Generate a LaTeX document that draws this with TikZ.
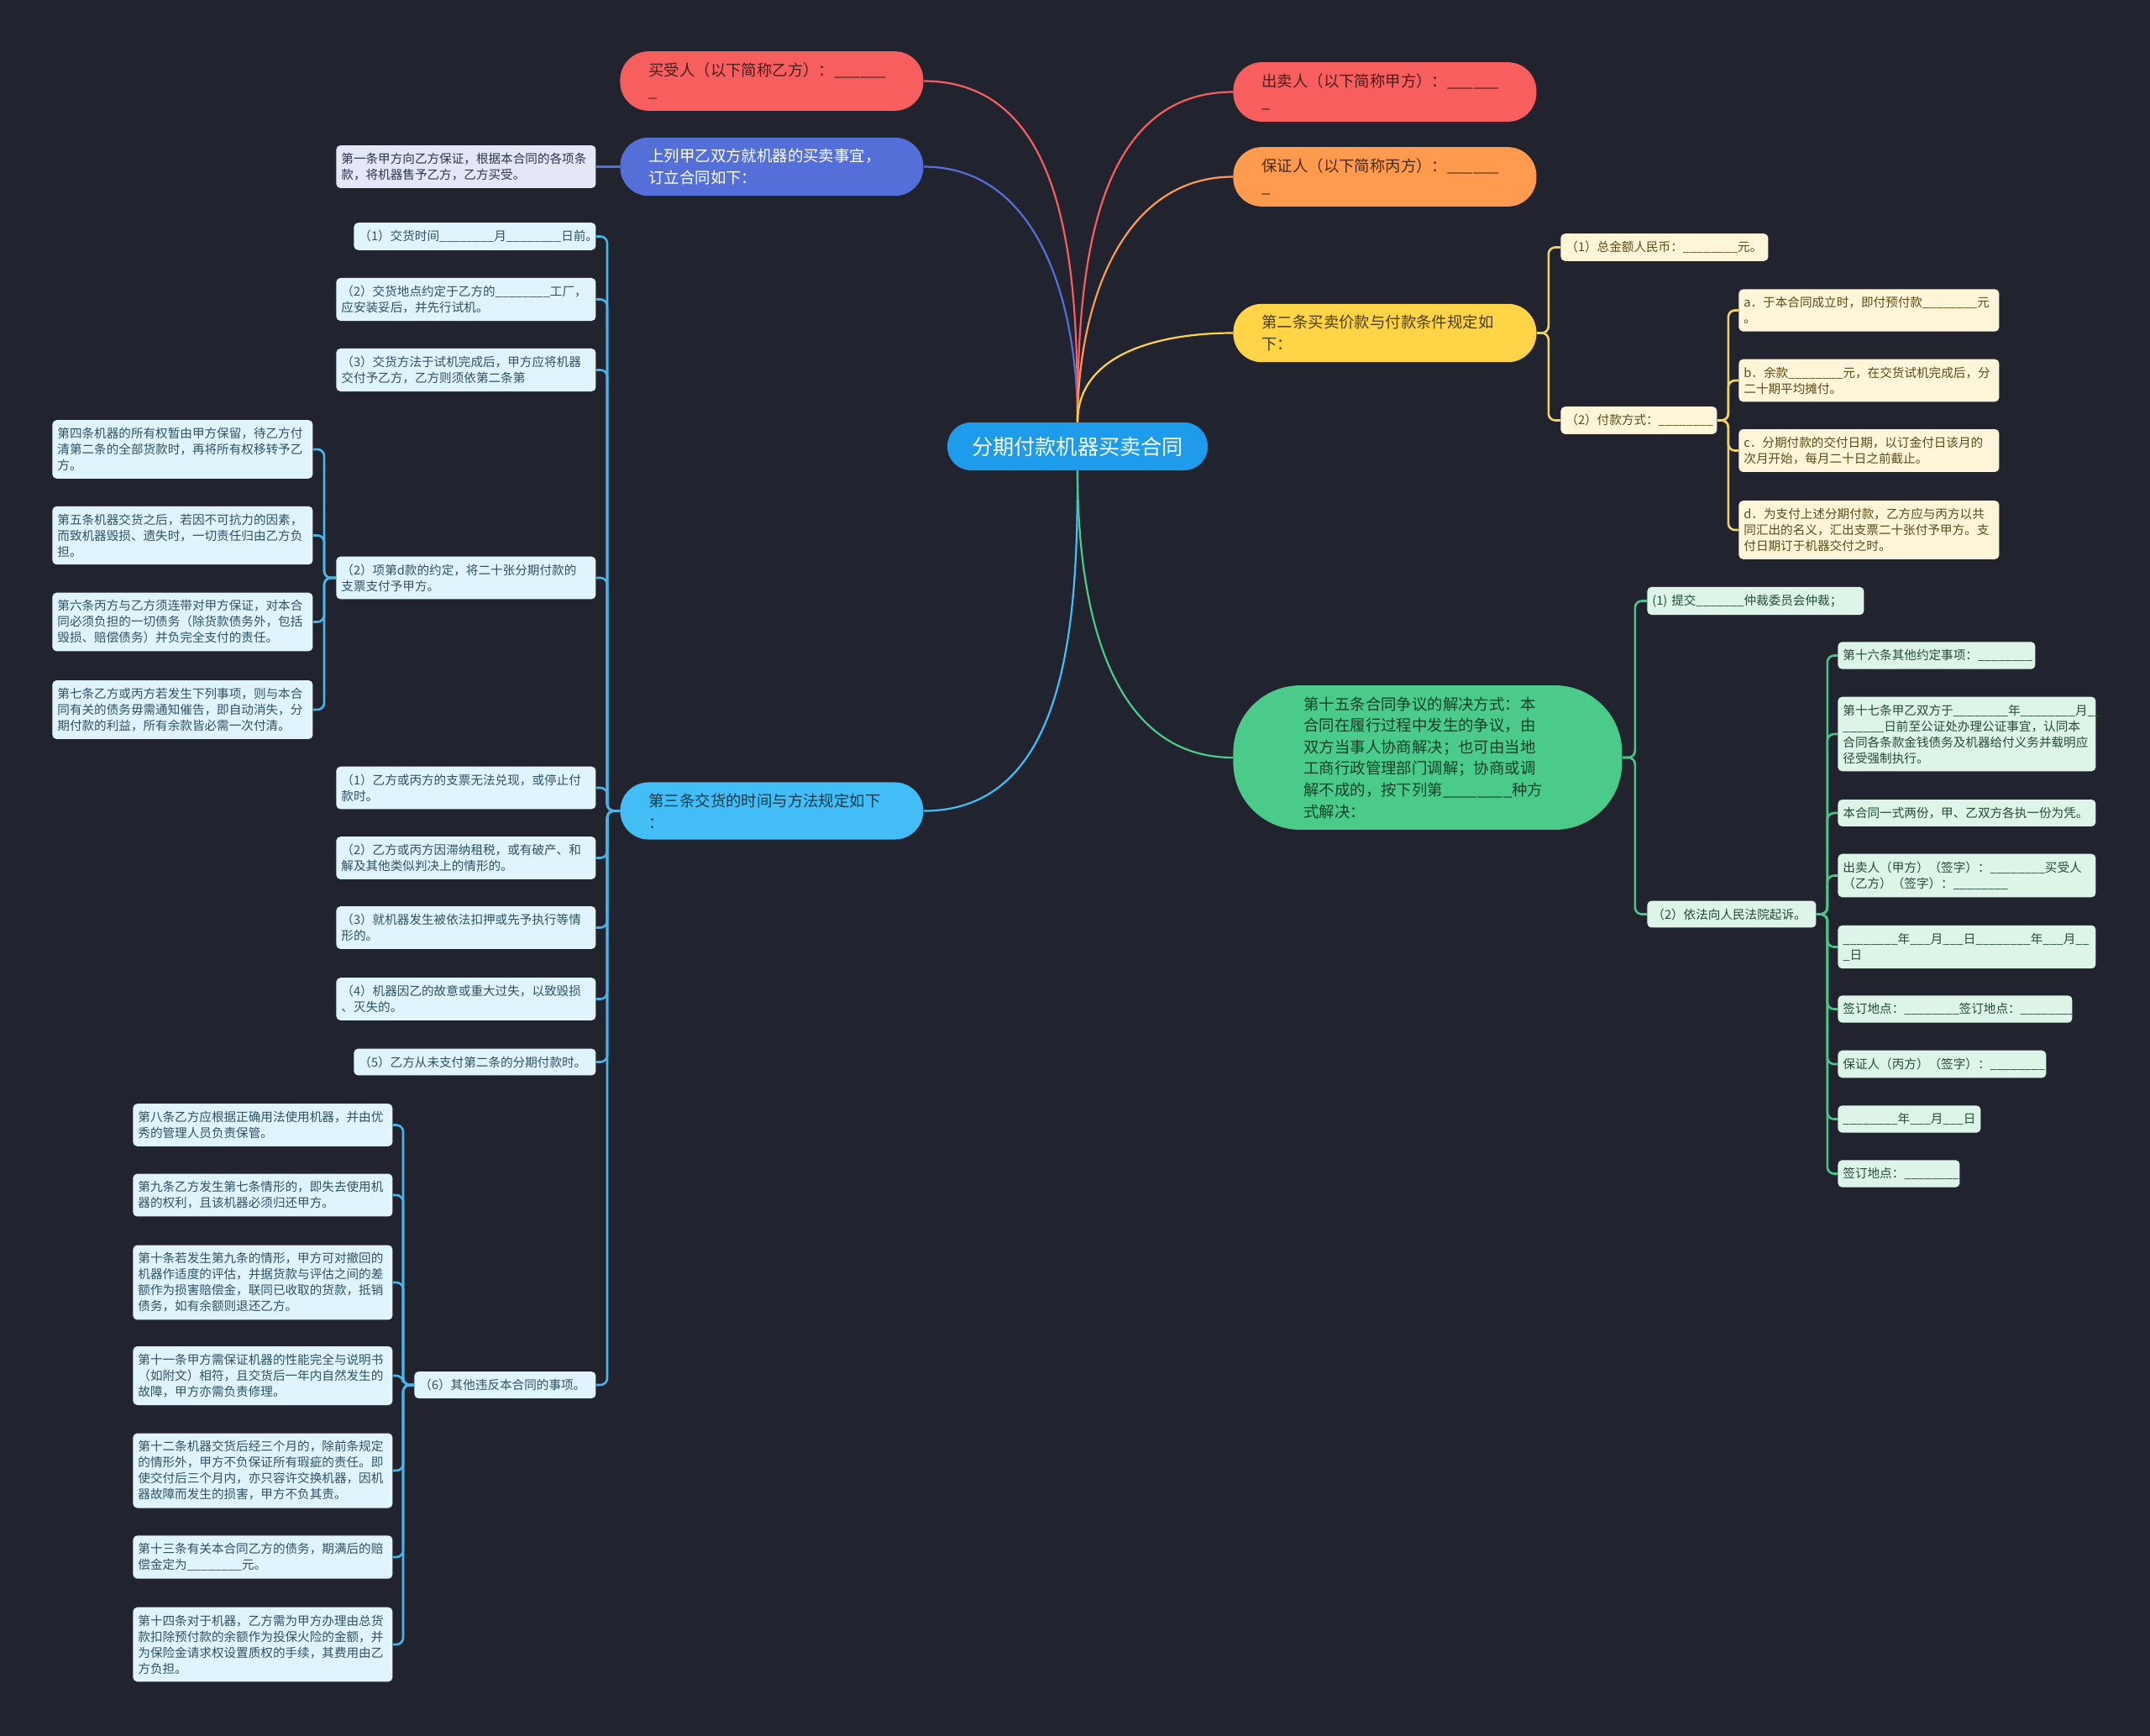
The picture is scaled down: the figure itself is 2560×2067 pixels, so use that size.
\documentclass[tikz,border=0pt]{standalone}
\usepackage{fontspec}
\setmainfont{Noto Sans CJK SC}
\definecolor{mapbg}{HTML}{21242E}
\definecolor{rootblue}{HTML}{1E9BEA}
\definecolor{mapred}{HTML}{F75F5F}
\definecolor{redtxt}{HTML}{4A1C1C}
\definecolor{mappurple}{HTML}{5470D8}
\definecolor{maporange}{HTML}{FF9A4F}
\definecolor{orangetxt}{HTML}{4A2A10}
\definecolor{mapyellow}{HTML}{FFD447}
\definecolor{yellowtxt}{HTML}{4A3D10}
\definecolor{mapsky}{HTML}{43BDF5}
\definecolor{skytxt}{HTML}{14384C}
\definecolor{mapgreen}{HTML}{4BCB89}
\definecolor{greentxt}{HTML}{17402A}
\definecolor{leafblue}{HTML}{DFF4FD}
\definecolor{leafbluetxt}{HTML}{2E5265}
\definecolor{leaflav}{HTML}{E4E7F8}
\definecolor{leaflavtxt}{HTML}{2D3350}
\definecolor{leafyellow}{HTML}{FFF6DA}
\definecolor{leafyellowtxt}{HTML}{5C4B16}
\definecolor{leafgreen}{HTML}{DDF4E8}
\definecolor{leafgreentxt}{HTML}{234D38}
\definecolor{linkblue}{HTML}{47B5E8}
\definecolor{linkyellow}{HTML}{F3D35A}
\definecolor{linkgreen}{HTML}{4DC58A}
\newcommand{\fillin}{\_\_\_\_\_\_\_\_}
\tikzset{
  rootnode/.style={fill=rootblue,text=white,rounded corners=14pt,minimum width=155pt,
    minimum height=28.5pt,font=\fontsize{12.6}{15}\selectfont},
  topic/.style={anchor=west,align=left,rounded corners=17pt,inner xsep=17pt,inner ysep=6.7pt,
    text width=146.5pt,font=\fontsize{9.2}{12.8}\selectfont},
  leaf/.style={anchor=west,align=left,rounded corners=2.5pt,inner xsep=3pt,inner ysep=4.5pt,
    font=\fontsize{7.3}{9.5}\selectfont},
  blueleaf/.style={leaf,fill=leafblue,text=leafbluetxt},
  lavleaf/.style={leaf,fill=leaflav,text=leaflavtxt},
  yellowleaf/.style={leaf,fill=leafyellow,text=leafyellowtxt},
  greenleaf/.style={leaf,fill=leafgreen,text=leafgreentxt},
  toplink/.style={line width=1.1pt},
  sublink/.style={line width=1.3pt,rounded corners=4pt},
}
\begin{document}
\begin{tikzpicture}[x=0.5pt,y=-0.5pt]
  \fill[mapbg] (0,0) rectangle (2560,2067);
  \useasboundingbox (0,0) rectangle (2560,2067);

  % centre and first level
  \node[rootnode] (root) at (1283,531.5) {分期付款机器买卖合同};
  \node[topic,fill=mapred,text=redtxt] (buyer) at (738,96.5) {买受人（以下简称乙方）：\_\_\_\_\_\_\\\_};
  \node[topic,fill=mappurple,text=white] (intro) at (738,198.5) {上列甲乙双方就机器的买卖事宜，\\订立合同如下：};
  \node[topic,fill=mapsky,text=skytxt] (art3) at (738,965.5) {第三条交货的时间与方法规定如下\\：};
  \node[topic,fill=mapred,text=redtxt] (seller) at (1468,109.5) {出卖人（以下简称甲方）：\_\_\_\_\_\_\\\_};
  \node[topic,fill=maporange,text=orangetxt] (guarantor) at (1468,210.5) {保证人（以下简称丙方）：\_\_\_\_\_\_\\\_};
  \node[topic,fill=mapyellow,text=yellowtxt] (art2) at (1468,396.5) {第二条买卖价款与付款条件规定如\\下：};
  \node[topic,fill=mapgreen,text=greentxt,rounded corners=40pt,inner xsep=42pt,text width=147.5pt] (art15) at (1468,902)
    {第十五条合同争议的解决方式：本\\合同在履行过程中发生的争议，由\\双方当事人协商解决；也可由当地\\工商行政管理部门调解；协商或调\\解不成的，按下列第\_\_\_\_\_\_\_\_种方\\式解决：};

  \draw[toplink,mapred] (root.north) to[out=90,in=0] (buyer.east);
  \draw[toplink,mappurple] (root.north) to[out=90,in=0] (intro.east);
  \draw[toplink,mapred] (root.north) to[out=90,in=180] (seller.west);
  \draw[toplink,maporange] (root.north) to[out=90,in=180] (guarantor.west);
  \draw[toplink,mapyellow] (root.north) to[out=90,in=180] (art2.west);
  \draw[toplink,mapsky] (root.south) to[out=-90,in=0] (art3.east);
  \draw[toplink,mapgreen] (root.south) to[out=-90,in=180] (art15.west);

  % intro
  \node[lavleaf,text width=148.5pt] (art1) at (400,198.5) {第一条甲方向乙方保证，根据本合同的各项条\\款，将机器售予乙方，乙方买受。};
  \draw[sublink,mappurple] (intro.west) -- (art1.east);

  % article 3
  \node[blueleaf,text width=138pt] (d1) at (421,281.5) {（1）交货时间\fillin 月\fillin 日前。};
  \node[blueleaf,text width=148.5pt] (d2) at (400,356.5) {（2）交货地点约定于乙方的\fillin 工厂，\\应安装妥后，并先行试机。};
  \node[blueleaf,text width=148.5pt] (d3) at (400,440.5) {（3）交货方法于试机完成后，甲方应将机器\\交付予乙方，乙方则须依第二条第};
  \node[blueleaf,text width=148.5pt] (d4) at (400,688) {（2）项第d款的约定，将二十张分期付款的\\支票支付予甲方。};
  \node[blueleaf,text width=148.5pt] (e1) at (400,938) {（1）乙方或丙方的支票无法兑现，或停止付\\款时。};
  \node[blueleaf,text width=148.5pt] (e2) at (400,1021.5) {（2）乙方或丙方因滞纳租税，或有破产、和\\解及其他类似判决上的情形的。};
  \node[blueleaf,text width=148.5pt] (e3) at (400,1104.5) {（3）就机器发生被依法扣押或先予执行等情\\形的。};
  \node[blueleaf,text width=148.5pt] (e4) at (400,1189.5) {（4）机器因乙的故意或重大过失，以致毁损\\、灭失的。};
  \node[blueleaf,text width=138pt] (e5) at (421,1264.5) {（5）乙方从未支付第二条的分期付款时。};
  \node[blueleaf,text width=102pt] (e6) at (493,1649) {（6）其他违反本合同的事项。};
  \foreach \c in {d1,d2,d3,d4,e1,e2,e3,e4,e5,e6}
    \draw[sublink,linkblue] (art3.west) -- ++(-15,0) |- (\c.east);

  \node[blueleaf,text width=149pt] (a4) at (62,535) {第四条机器的所有权暂由甲方保留，待乙方付\\清第二条的全部货款时，再将所有权移转予乙\\方。};
  \node[blueleaf,text width=149pt] (a5) at (62,637.5) {第五条机器交货之后，若因不可抗力的因素，\\而致机器毁损、遗失时，一切责任归由乙方负\\担。};
  \node[blueleaf,text width=149pt] (a6) at (62,740.5) {第六条丙方与乙方须连带对甲方保证，对本合\\同必须负担的一切债务（除货款债务外，包括\\毁损、赔偿债务）并负完全支付的责任。};
  \node[blueleaf,text width=149pt] (a7) at (62,845) {第七条乙方或丙方若发生下列事项，则与本合\\同有关的债务毋需通知催告，即自动消失，分\\期付款的利益，所有余款皆必需一次付清。};
  \foreach \c in {a4,a5,a6,a7}
    \draw[sublink,linkblue] (d4.west) -- ++(-14,0) |- (\c.east);

  \node[blueleaf,text width=148.5pt] (b8) at (158,1339.5) {第八条乙方应根据正确用法使用机器，并由优\\秀的管理人员负责保管。};
  \node[blueleaf,text width=148.5pt] (b9) at (158,1423) {第九条乙方发生第七条情形的，即失去使用机\\器的权利，且该机器必须归还甲方。};
  \node[blueleaf,text width=148.5pt] (b10) at (158,1527) {第十条若发生第九条的情形，甲方可对撤回的\\机器作适度的评估，并据货款与评估之间的差\\额作为损害赔偿金，联同已收取的货款，抵销\\债务，如有余额则退还乙方。};
  \node[blueleaf,text width=148.5pt] (b11) at (158,1638) {第十一条甲方需保证机器的性能完全与说明书\\（如附文）相符，且交货后一年内自然发生的\\故障，甲方亦需负责修理。};
  \node[blueleaf,text width=148.5pt] (b12) at (158,1751) {第十二条机器交货后经三个月的，除前条规定\\的情形外，甲方不负保证所有瑕疵的责任。即\\使交付后三个月内，亦只容许交换机器，因机\\器故障而发生的损害，甲方不负其责。};
  \node[blueleaf,text width=148.5pt] (b13) at (158,1854) {第十三条有关本合同乙方的债务，期满后的赔\\偿金定为\fillin 元。};
  \node[blueleaf,text width=148.5pt] (b14) at (158,1958) {第十四条对于机器，乙方需为甲方办理由总货\\款扣除预付款的余额作为投保火险的金额，并\\为保险金请求权设置质权的手续，其费用由乙\\方负担。};
  \foreach \c in {b8,b9,b10,b11,b12,b13,b14}
    \draw[sublink,linkblue] (e6.west) -- ++(-13,0) |- (\c.east);

  % article 2
  \node[yellowleaf,text width=117.5pt] (p1) at (1858,294.5) {（1）总金额人民币：\fillin 元。};
  \node[yellowleaf,text width=87pt] (p2) at (1858,500.5) {（2）付款方式：\fillin};
  \foreach \c in {p1,p2}
    \draw[sublink,linkyellow] (art2.east) -- ++(14,0) |- (\c.west);
  \node[yellowleaf,text width=149pt] (pa) at (2070,369.5) {a．于本合同成立时，即付预付款\fillin 元\\。};
  \node[yellowleaf,text width=149pt] (pb) at (2070,453) {b．余款\fillin 元，在交货试机完成后，分\\二十期平均摊付。};
  \node[yellowleaf,text width=149pt] (pc) at (2070,536.5) {c．分期付款的交付日期，以订金付日该月的\\次月开始，每月二十日之前截止。};
  \node[yellowleaf,text width=149pt] (pd) at (2070,631) {d．为支付上述分期付款，乙方应与丙方以共\\同汇出的名义，汇出支票二十张付予甲方。支\\付日期订于机器交付之时。};
  \foreach \c in {pa,pb,pc,pd}
    \draw[sublink,linkyellow] (p2.east) -- ++(13,0) |- (\c.west);

  % article 15
  \node[greenleaf,text width=123pt] (s1) at (1961,715.5) {(1) 提交\_\_\_\_\_\_\_仲裁委员会仲裁；};
  \node[greenleaf,text width=94.5pt] (s2) at (1961,1088.5) {（2）依法向人民法院起诉。};
  \foreach \c in {s1,s2}
    \draw[sublink,linkgreen] (art15.east) -- ++(15,0) |- (\c.west);
  \node[greenleaf,text width=111.5pt] (g1) at (2188,780.5) {第十六条其他约定事项：\fillin};
  \node[greenleaf,text width=147.5pt] (g2) at (2188,874) {第十七条甲乙双方于\fillin 年\fillin 月\_\_\\\_\_\_\_\_\_日前至公证处办理公证事宜，认同本\\合同各条款金钱债务及机器给付义务并载明应\\径受强制执行。};
  \node[greenleaf,text width=147.5pt] (g3) at (2188,968) {本合同一式两份，甲、乙双方各执一份为凭。};
  \node[greenleaf,text width=147.5pt] (g4) at (2188,1042.5) {出卖人（甲方）（签字）：\fillin 买受人\\（乙方）（签字）：\fillin};
  \node[greenleaf,text width=147.5pt] (g5) at (2188,1127.5) {\fillin 年\_\_\_月\_\_\_日\fillin 年\_\_\_月\_\_\\\_日};
  \node[greenleaf,text width=133.5pt] (g6) at (2188,1201.5) {签订地点：\fillin 签订地点：\fillin};
  \node[greenleaf,text width=118pt] (g7) at (2188,1267) {保证人（丙方）（签字）：\fillin};
  \node[greenleaf,text width=79pt] (g8) at (2188,1332.5) {\fillin 年\_\_\_月\_\_\_日};
  \node[greenleaf,text width=66.5pt] (g9) at (2188,1397.5) {签订地点：\fillin};
  \foreach \c in {g1,g2,g3,g4,g5,g6,g7,g8,g9}
    \draw[sublink,linkgreen] (s2.east) -- ++(13,0) |- (\c.west);
\end{tikzpicture}
\end{document}
